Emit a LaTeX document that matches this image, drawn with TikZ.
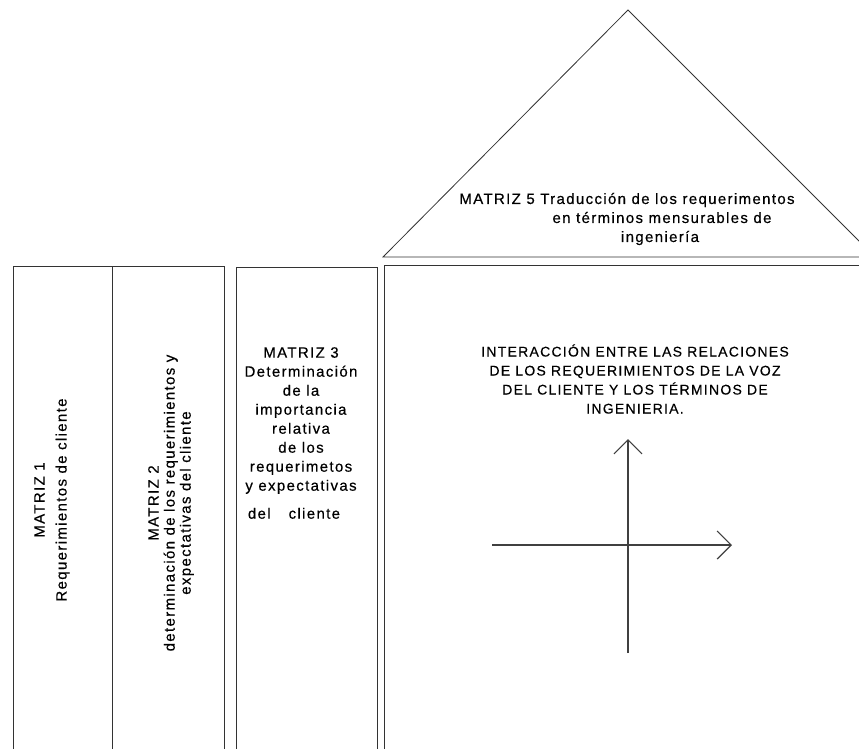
\documentclass[tikz,border=0pt]{standalone}
\usepackage{fontspec}
\setmainfont{Liberation Sans}[LetterSpace=9, FakeBold=0.4]
\usetikzlibrary{positioning,arrows.meta}
\tikzset{
  txt/.style={font=\fontsize{15}{19}\selectfont, align=center, inner sep=0pt, text=black},
  wall/.style={draw=black!80, line width=1pt},
  axis/.style={draw=black!75, line width=1.2pt, -{Straight Barb[length=14pt,width=28pt]}}
}
\begin{document}
\begin{tikzpicture}[x=1pt,y=-1pt]
   \useasboundingbox (0,0) rectangle (859,748);
   % columns
   \draw[wall] (13,760) -- (13,266) -- (224,266) -- (224,760);
   \draw[wall] (112,266) -- (112,760);
   \draw[wall] (236,760) -- (236,267) -- (377,267) -- (377,760);
   \draw[wall] (384,760) -- (384,265) -- (870,265);
   % roof
   \draw[wall, line width=0.8pt] (383,257) -- (628,10) -- (875,257) -- cycle;
   \node (M1) [txt, rotate=90] at (52,500) {MATRIZ 1\\[3pt]Requerimientos de cliente};
   \node (M2) [txt, rotate=90, font=\fontsize{15}{16}\selectfont] at (171,503)
     {MATRIZ 2\\determinación de los requerimientos y\\expectativas del cliente};
   \node (M3) [txt, anchor=north] at (301,347)
     {MATRIZ 3\\Determinación\\de la\\importancia\\relativa\\de los\\requerimetos\\y expectativas\\[9pt]del\hspace{18pt}cliente\hspace*{14pt}};
   \node (M5) [txt] at (627,219)
     {MATRIZ 5 Traducción de los requerimentos\\\hspace*{70pt}en términos mensurables de\\\hspace*{66pt}ingeniería};
   \node (I) [txt, font=\fontsize{14}{19}\selectfont] at (635,379)
     {INTERACCIÓN ENTRE LAS RELACIONES\\DE LOS REQUERIMIENTOS DE LA VOZ\\DEL CLIENTE Y LOS TÉRMINOS DE\\INGENIERIA.};
   % axes
   \coordinate (N) at (628,439);
   \coordinate (S) at (628,653);
   \coordinate (W) at (492,545);
   \coordinate (E) at (732,545);
   \path (S) edge[axis] (N)
         (W) edge[axis] (E);
\end{tikzpicture}
\end{document}
